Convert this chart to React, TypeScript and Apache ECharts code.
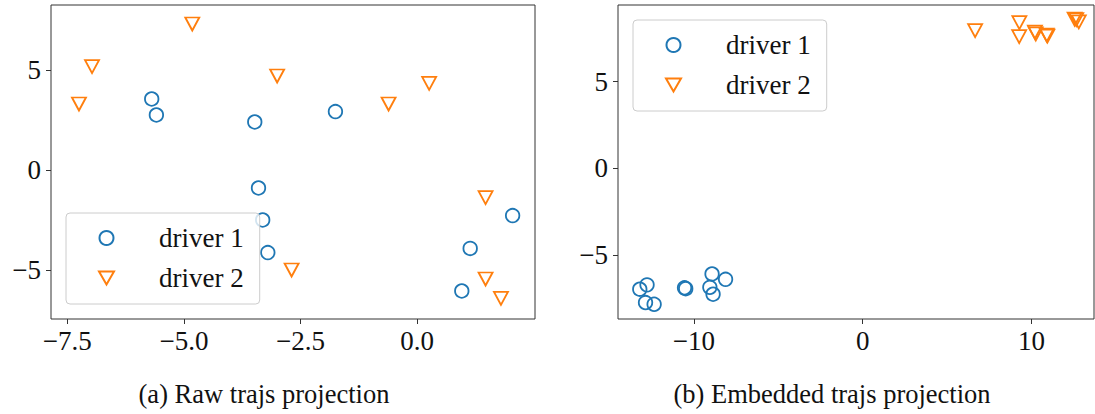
import React, { useEffect, useRef } from "react";
import * as echarts from "echarts";

// Point coordinates for the two projections (x, y)
const rawDriver1: [number, number][] = [
  [-5.69, 3.55], [-5.59, 2.75], [-3.48, 2.4], [-1.75, 2.92], [-3.4, -0.9],
  [-3.31, -2.5], [-3.2, -4.13], [2.05, -2.28], [1.14, -3.92], [0.96, -6.05],
];
const rawDriver2: [number, number][] = [
  [-4.82, 7.3], [-6.97, 5.17], [-7.25, 3.3], [-3.0, 4.7], [-0.61, 3.3],
  [0.26, 4.33], [-2.69, -5.0], [1.47, -1.38], [1.47, -5.45], [1.8, -6.42],
];
const embDriver1: [number, number][] = [
  [-13.2, -6.98], [-12.77, -6.73], [-12.86, -7.75], [-12.35, -7.85], [-10.55, -6.9],
  [-10.48, -6.95], [-8.92, -6.1], [-8.12, -6.41], [-9.05, -6.87], [-8.86, -7.27],
];
const embDriver2: [number, number][] = [
  [6.66, 7.94], [9.28, 8.4], [9.27, 7.6], [10.2, 7.85], [10.25, 7.75],
  [10.94, 7.63], [10.9, 7.68], [12.55, 8.6], [12.65, 8.58], [12.8, 8.45],
];

const rawXTicks = [-7.5, -5, -2.5, 0];
const rawYTicks = [-5, 0, 5];
const embXTicks = [-10, 0, 10];
const embYTicks = [-5, 0, 5];

const seriesNames = ["driver 1", "driver 2"];
const captions = ["(a) Raw trajs projection", "(b) Embedded trajs projection"];

const BLUE = "#1f77b4";
const ORANGE = "#ff7f0e";
const FONT = "Liberation Serif, serif";
const INK = "#111";
const AXIS = "#333";

// downward-pointing triangle used as the legend icon
const DOWN_TRIANGLE = "path://M0,0L16,0L8,14Z";

const minus = (s: string) => s.replace("-", "\u2212");

function valueAxis(
  dim: "x" | "y",
  gridIndex: number,
  min: number,
  max: number,
  ticks: number[],
  decimals: number
) {
  return {
    type: "value",
    gridIndex,
    min,
    max,
    position: dim === "x" ? "bottom" : "left",
    axisLine: { show: false, onZero: false },
    splitLine: { show: false },
    axisTick: {
      show: true,
      length: 5,
      customValues: ticks,
      lineStyle: { color: AXIS, width: 1 },
    },
    axisLabel: {
      customValues: ticks,
      margin: dim === "x" ? 8 : 10,
      fontFamily: FONT,
      fontSize: 27,
      color: INK,
      formatter: (v: number) => minus(v.toFixed(decimals)),
    },
  };
}

function circleSeries(name: string, idx: number, data: [number, number][]) {
  return {
    type: "scatter",
    name,
    xAxisIndex: idx,
    yAxisIndex: idx,
    data,
    symbol: "circle",
    symbolSize: 13.5,
    itemStyle: { color: "rgba(255,255,255,0)", borderColor: BLUE, borderWidth: 1.8, opacity: 1 },
  };
}

function triangleSeries(name: string, idx: number, data: [number, number][]) {
  return {
    type: "scatter",
    name,
    xAxisIndex: idx,
    yAxisIndex: idx,
    data,
    symbol: "triangle",
    symbolRotate: 180,
    symbolSize: [14, 13],
    itemStyle: { color: "rgba(255,255,255,0)", borderColor: ORANGE, borderWidth: 1.8, opacity: 1 },
  };
}

function legendBox(left: number, top: number) {
  return {
    orient: "vertical",
    left,
    top,
    data: [
      { name: seriesNames[0], icon: "circle" },
      { name: seriesNames[1], icon: DOWN_TRIANGLE },
    ],
    symbolRotate: 0,
    itemWidth: 15,
    itemHeight: 14,
    itemGap: 10,
    padding: [10, 16, 11, 32],
    backgroundColor: "rgba(255,255,255,0.8)",
    borderColor: "#cccccc",
    borderWidth: 1,
    borderRadius: 4,
    selectedMode: false,
    textStyle: {
      fontFamily: FONT,
      fontSize: 27,
      color: INK,
      lineHeight: 30,
      padding: [0, 0, 0, 40],
    },
  };
}

export default function App() {
  const ref = useRef<HTMLDivElement>(null);

  useEffect(() => {
    if (!ref.current) return;
    const chart = echarts.init(ref.current, null, { renderer: "svg" });
    chart.setOption({
      animation: false,
      backgroundColor: "#ffffff",
      textStyle: { fontFamily: FONT },
      grid: [
        { left: 51, top: 5, width: 484, height: 314, show: true, borderColor: AXIS, borderWidth: 1, backgroundColor: "transparent" },
        { left: 618, top: 5, width: 476, height: 314, show: true, borderColor: AXIS, borderWidth: 1, backgroundColor: "transparent" },
      ],
      xAxis: [
        valueAxis("x", 0, -7.85, 2.53, rawXTicks, 1),
        valueAxis("x", 1, -14.49, 13.7, embXTicks, 0),
      ],
      yAxis: [
        valueAxis("y", 0, -7.45, 8.25, rawYTicks, 0),
        valueAxis("y", 1, -8.7, 9.42, embYTicks, 0),
      ],
      legend: [legendBox(66, 213), legendBox(633, 20)],
      series: [
        circleSeries(seriesNames[0], 0, rawDriver1),
        triangleSeries(seriesNames[1], 0, rawDriver2),
        circleSeries(seriesNames[0], 1, embDriver1),
        triangleSeries(seriesNames[1], 1, embDriver2),
      ],
      graphic: [
        {
          type: "text",
          x: 264,
          y: 394,
          style: { text: captions[0], align: "center", verticalAlign: "middle", font: `26.5px ${FONT}`, fill: INK },
        },
        {
          type: "text",
          x: 832,
          y: 394,
          style: { text: captions[1], align: "center", verticalAlign: "middle", font: `26.5px ${FONT}`, fill: INK },
        },
      ],
    });
    return () => chart.dispose();
  }, []);

  return (
    <div
      ref={ref}
      style={{ position: "absolute", left: 0, top: 0, width: 1095, height: 414 }}
    />
  );
}
